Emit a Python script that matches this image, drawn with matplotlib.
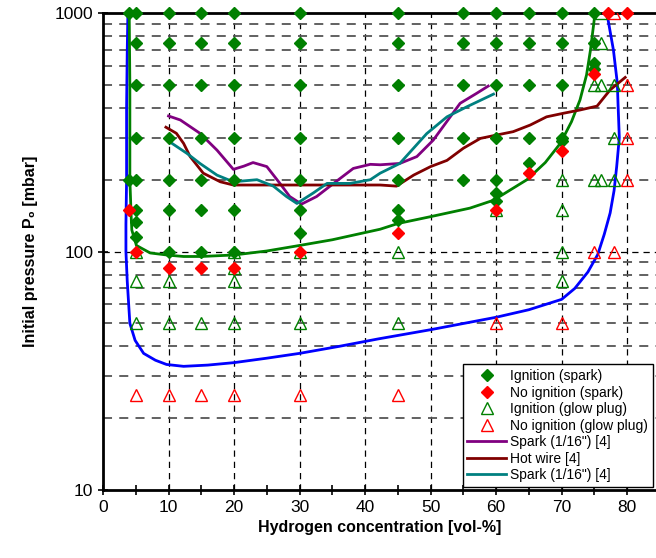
import numpy as np
import matplotlib.pyplot as plt
from matplotlib.ticker import FixedLocator, NullFormatter

plt.rcParams['font.family'] = ['Liberation Sans', 'DejaVu Sans']

# measured points
ign_spark_x = [4, 4, 5, 5, 5, 5, 5, 5, 5, 5,
               10, 10, 10, 10, 10, 10, 10,
               15, 15, 15, 15, 15, 15, 15,
               20, 20, 20, 20, 20, 20, 20,
               30, 30, 30, 30, 30, 30, 30,
               45, 45, 45, 45, 45, 45, 45,
               55, 55, 55, 55, 55,
               60, 60, 60, 60, 60, 60, 60,
               65, 65, 65, 65, 65,
               70, 70, 70, 70, 70,
               75, 75, 75, 75]
ign_spark_p = [1000, 200, 1000, 750, 500, 300, 200, 150, 133, 115,
               1000, 750, 500, 300, 200, 150, 100,
               1000, 750, 500, 300, 200, 150, 100,
               1000, 750, 500, 300, 200, 150, 100,
               1000, 750, 500, 300, 200, 150, 120,
               1000, 750, 500, 300, 200, 150, 135,
               1000, 750, 500, 300, 200,
               1000, 750, 500, 300, 200, 176, 163,
               1000, 750, 500, 300, 236,
               1000, 750, 500, 300, 290,
               1000, 750, 615, 585]

noign_spark_x = [4, 5, 10, 15, 20, 30, 45, 60, 65, 70, 75, 77, 80]
noign_spark_p = [150, 100, 85, 85, 85, 100, 120, 150, 214, 264, 555, 1000, 1000]

ign_glow_x = [5, 5, 5, 10, 10, 15, 20, 20, 20, 20, 30, 30, 45, 45,
              60, 70, 70, 70, 70, 75, 76, 78, 75, 76, 78, 78, 76, 76]
ign_glow_p = [100, 75, 50, 75, 50, 50, 100, 85, 75, 50, 100, 50, 100, 50,
              150, 200, 150, 100, 75, 500, 500, 500, 200, 200, 200, 300, 750, 1000]

noign_glow_x = [5, 10, 15, 20, 30, 45, 60, 70, 75, 78, 80, 80, 80, 78]
noign_glow_p = [25, 25, 25, 25, 25, 25, 50, 50, 100, 100, 200, 300, 500, 1000]

# literature curves [4]
spark1_x = [10, 11.8, 14.8, 17.4, 19.9, 21.5, 22.9, 25, 27, 28.5, 30.3, 32.6, 35.2,
            38.2, 40.8, 42.3, 45.3, 47.9, 50.4, 53, 54.5, 57, 58.8]
spark1_p = [370, 356, 313, 266, 221, 228, 236, 227, 193, 170, 158, 170, 193,
            223, 232, 231, 234, 250, 293, 367, 418, 460, 494]

hotwire_x = [9.6, 11.2, 12.3, 13.3, 15.3, 17.9, 19.9, 25, 30, 36, 42.3, 44.8, 47.4,
             50, 52.5, 55, 57.6, 60.1, 62.6, 65.2, 67.7, 70.3, 72.8, 75.4, 77.4, 79.7]
hotwire_p = [332, 313, 284, 250, 213, 196, 190, 190, 190, 190, 190, 188, 209,
             227, 241, 271, 298, 308, 318, 339, 367, 380, 392, 407, 476, 537]

spark2_x = [10.2, 12.8, 14.8, 17.4, 19.9, 23.5, 26, 28, 29.6, 32.1, 34.2, 37.7,
            40.8, 42.3, 45.3, 49.4, 52.5, 55.5, 59.6]
spark2_p = [288, 258, 234, 209, 196, 200, 188, 170, 159, 176, 193, 193,
            200, 213, 234, 312, 367, 404, 457]

# limit curves
glow_lim_x = [3.8, 3.7, 3.6, 3.6, 3.5, 3.5, 3.7, 4.1, 4.9, 6.2, 8, 9.7, 12.3, 16, 20,
              25, 30, 36, 42, 50, 60, 65, 70, 72, 74, 75.5, 76.5, 77.4, 78, 78.4,
              78.8, 78.6, 78.5, 77.9, 76.9]
glow_lim_p = [1000, 700, 400, 200, 130, 100, 75, 50, 42.4, 37.4, 35, 33.6, 33, 33.4, 34.2,
              35.7, 37.4, 40, 43, 47, 53, 57, 63, 70, 82, 97, 118, 145, 180, 227,
              300, 420, 507, 700, 1000]

spark_lim_x = [4.0, 4.1, 4.1, 4.3, 4.4, 5.1, 7.2, 10, 12.3, 15, 20, 25, 30, 35, 42.3,
               45, 50, 56, 59.6, 64.7, 67.5, 69.8, 71.5, 72.8, 73.8, 74.4, 75.1]
spark_lim_p = [1000, 500, 200, 140, 123, 106, 98.6, 96.5, 95.3, 95.3, 96.7, 100.5, 106,
               112, 124, 131, 140, 152, 164, 200, 236, 284, 350, 432, 550, 700, 1000]

fig = plt.figure(figsize=(6.56, 5.58), dpi=100)
ax = fig.add_axes([103/656, 68/558, 553/656, 477/558])
ax.set_yscale('log')
ax.set_xlim(0, 84.4)
ax.set_ylim(10, 1000)

# grid
for x in range(10, 90, 10):
    ax.axvline(x, color='black', lw=0.9, dashes=(5, 4), zorder=0)
for dec in [10, 100]:
    for m in range(2, 10):
        ax.axhline(dec*m, color='#555555', lw=1.3, dashes=(5, 4), zorder=0)
ax.axhline(100, color='black', lw=0.9, dashes=(5, 4), zorder=0)

ax.plot(glow_lim_x, glow_lim_p, color='#0000FF', lw=2, zorder=2)
ax.plot(spark_lim_x, spark_lim_p, color='#008000', lw=2, zorder=2)
l1, = ax.plot(spark1_x, spark1_p, color='#800080', lw=2, zorder=2)
l2, = ax.plot(hotwire_x, hotwire_p, color='#800000', lw=2, zorder=2)
l3, = ax.plot(spark2_x, spark2_p, color='#008080', lw=2, zorder=2)

m3, = ax.plot(ign_glow_x, ign_glow_p, ls='none', marker='^', ms=9, mfc='none',
              mec='#008000', mew=1, zorder=3)
m4, = ax.plot(noign_glow_x, noign_glow_p, ls='none', marker='^', ms=9, mfc='none',
              mec='#FF0000', mew=1, zorder=3)
m1, = ax.plot(ign_spark_x, ign_spark_p, ls='none', marker='D', ms=6.3,
              color='#008000', zorder=4, clip_on=False)
m2, = ax.plot(noign_spark_x, noign_spark_p, ls='none', marker='D', ms=6.3,
              color='#FF0000', zorder=5, clip_on=False)

ax.set_xticks(range(0, 90, 10))
ax.xaxis.set_minor_locator(FixedLocator(range(5, 85, 10)))
ax.set_yticks([10, 100, 1000])
ax.set_yticklabels(['10', '100', '1000'])
ax.yaxis.set_minor_formatter(NullFormatter())
ax.tick_params(axis='both', which='major', direction='inout', length=7, width=1.2,
               labelsize=12.5)
ax.tick_params(axis='x', which='minor', direction='inout', length=7, width=1.2)
ax.tick_params(axis='y', which='minor', length=0)

for s in ['left', 'bottom', 'top']:
    ax.spines[s].set_linewidth(2)
ax.spines['right'].set_visible(False)

ax.set_xlabel('Hydrogen concentration [vol-%]', fontsize=11.5, fontweight='bold',
              labelpad=4)
ax.set_ylabel('Initial pressure P\u2080 [mbar]', fontsize=11.5, fontweight='bold',
              labelpad=12)

leg = ax.legend([m1, m2, m3, m4, l1, l2, l3],
                ['Ignition (spark)', 'No ignition (spark)', 'Ignition (glow plug)',
                 'No ignition (glow plug)', 'Spark (1/16") [4]', 'Hot wire [4]',
                 'Spark (1/16") [4]'],
                loc='lower right', bbox_to_anchor=(0.995, 0.006), fontsize=10,
                frameon=True, fancybox=False, edgecolor='black', framealpha=1,
                borderpad=0.35, labelspacing=0.18, handlelength=2.8,
                handletextpad=0.3, borderaxespad=0)
leg.get_frame().set_linewidth(1)
leg.set_zorder(6)

fig.savefig('out.png', dpi=100)
